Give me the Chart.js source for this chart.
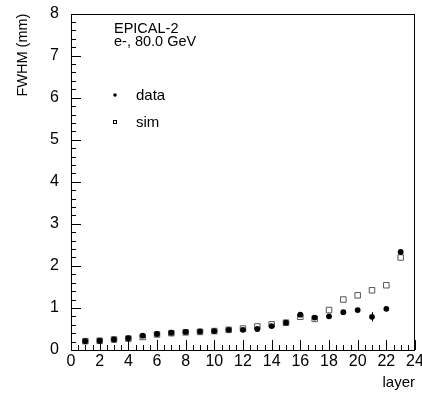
<!DOCTYPE html>
<html>
<head>
<meta charset="utf-8">
<script src="https://cdn.jsdelivr.net/npm/chart.js@4.4.1/dist/chart.umd.min.js"></script>
<style>
  html, body { margin: 0; padding: 0; background: #fff; }
  #wrap { width: 422px; height: 393px; }
</style>
</head>
<body>
<div id="wrap"><canvas id="fwhmChart"></canvas></div>
<script>
/* dados */
const layers   = [1, 2, 3, 4, 5, 6, 7, 8, 9, 10, 11, 12, 13, 14, 15, 16, 17, 18, 19, 20, 21, 22, 23];
const dataFwhm = [0.21, 0.22, 0.25, 0.28, 0.34, 0.38, 0.41, 0.43, 0.44, 0.45, 0.48, 0.48, 0.50, 0.57, 0.65, 0.84, 0.77, 0.80, 0.90, 0.95, 0.79, 0.98, 2.33];
const dataErr  = [0.01, 0.01, 0.01, 0.01, 0.01, 0.01, 0.01, 0.01, 0.01, 0.01, 0.01, 0.01, 0.01, 0.01, 0.01, 0.01, 0.01, 0.02, 0.02, 0.02, 0.11, 0.02, 0.04];
const simFwhm  = [0.21, 0.22, 0.25, 0.27, 0.31, 0.37, 0.40, 0.42, 0.43, 0.45, 0.48, 0.51, 0.56, 0.61, 0.65, 0.79, 0.74, 0.95, 1.20, 1.30, 1.42, 1.54, 2.20];
const xTicks   = [0, 2, 4, 6, 8, 10, 12, 14, 16, 18, 20, 22, 24];
const yTicks   = [0, 1, 2, 3, 4, 5, 6, 7, 8];
const infoText = ['EPICAL-2', 'e-, 80.0 GeV'];

const FONT = '"Liberation Sans", Arial, Helvetica, sans-serif';

/* barras de erro por baixo dos pontos */
const errorBars = {
  id: 'errorBars',
  beforeDatasetsDraw(chart) {
    const { ctx, scales: { x, y } } = chart;
    ctx.save();
    ctx.strokeStyle = '#000';
    ctx.lineWidth = 1;
    ctx.beginPath();
    layers.forEach((l, i) => {
      const px = Math.round(x.getPixelForValue(l)) + 0.5;
      ctx.moveTo(px, y.getPixelForValue(dataFwhm[i] - dataErr[i]));
      ctx.lineTo(px, y.getPixelForValue(dataFwhm[i] + dataErr[i]));
    });
    ctx.stroke();
    ctx.restore();
  }
};

/* moldura + marcas de escala estilo ROOT, texto e legenda */
const rootFrame = {
  id: 'rootFrame',
  afterDraw(chart) {
    const { ctx, chartArea: a } = chart;
    const x = chart.scales.x, y = chart.scales.y;
    ctx.save();
    ctx.fillStyle = '#000';
    ctx.strokeStyle = '#000';
    ctx.lineWidth = 1;
    ctx.strokeRect(Math.round(a.left) + 0.5, Math.round(a.top) + 0.5,
                   Math.round(a.right - a.left) - 1, Math.round(a.bottom - a.top));

    const bottom = Math.round(a.bottom);
    const left = Math.round(a.left);
    const x0 = xTicks[0], x1 = xTicks[xTicks.length - 1];
    const y0 = yTicks[0], y1 = yTicks[yTicks.length - 1];
    // x: major a cada 2, minor a cada 0.5
    for (let i = 0; i <= (x1 - x0) * 2; i++) {
      const px = Math.round(x.getPixelForValue(x0 + i * 0.5));
      const len = i % 4 === 0 ? 10 : 5;
      ctx.fillRect(px, bottom - len, 1, len);
    }
    // y: major a cada 1, minor a cada 0.2
    for (let i = 0; i <= (y1 - y0) * 5; i++) {
      const py = Math.round(y.getPixelForValue(y0 + i * 0.2));
      const len = i % 5 === 0 ? 10 : 5;
      ctx.fillRect(left, py, len, 1);
    }

    ctx.font = '14.5px ' + FONT;
    ctx.textBaseline = 'alphabetic';
    ctx.fillText(infoText[0], 114, 33);
    ctx.fillText(infoText[1], 114, 46);

    // legenda
    ctx.textBaseline = 'middle';
    ctx.font = '15px ' + FONT;
    ctx.beginPath();
    ctx.arc(115, 95, 1.8, 0, Math.PI * 2);
    ctx.fill();
    ctx.fillText(chart.data.datasets[0].label, 136, 96);
    ctx.strokeRect(113.5, 120.5, 3, 3);
    ctx.fillText(chart.data.datasets[1].label, 136, 123);
    ctx.restore();
  }
};

new Chart(document.getElementById('fwhmChart'), {
  type: 'scatter',
  data: {
    datasets: [
      {
        label: 'data',
        data: layers.map((l, i) => ({ x: l, y: dataFwhm[i] })),
        pointStyle: 'circle',
        pointRadius: 2.9,
        backgroundColor: '#000',
        borderColor: '#000',
        borderWidth: 0,
        order: 0
      },
      {
        label: 'sim',
        data: layers.map((l, i) => ({ x: l, y: simFwhm[i] })),
        pointStyle: 'rect',
        pointRadius: 3.9,
        backgroundColor: '#fff',
        borderColor: '#555',
        borderWidth: 1,
        order: 1
      }
    ]
  },
  options: {
    responsive: true,
    maintainAspectRatio: false,
    animation: false,
    events: [],
    layout: { padding: { top: 13, right: 7, left: 0, bottom: 0 } },
    plugins: { legend: { display: false }, tooltip: { enabled: false } },
    scales: {
      x: {
        type: 'linear',
        min: 0, max: 24,
        afterBuildTicks: s => { s.ticks = xTicks.map(v => ({ value: v })); },
        afterFit: s => { s.height = 43; },
        grid: { display: false },
        border: { display: false },
        ticks: { color: '#000', font: { family: FONT, size: 16 }, padding: -6, maxRotation: 0, autoSkip: false },
        title: { display: true, text: 'layer', align: 'end', color: '#000',
                 font: { family: FONT, size: 15 }, padding: { top: 0, bottom: 1 } }
      },
      y: {
        type: 'linear',
        min: 0, max: 8,
        afterBuildTicks: s => { s.ticks = yTicks.map(v => ({ value: v })); },
        afterFit: s => { s.width = 71; },
        grid: { display: false },
        border: { display: false },
        ticks: { color: '#000', font: { family: FONT, size: 16 }, padding: 4 },
        title: { display: true, text: 'FWHM (mm)', align: 'end', color: '#000',
                 font: { family: FONT, size: 14.5 }, padding: { top: 14, bottom: 0 } }
      }
    }
  },
  plugins: [errorBars, rootFrame]
});
</script>
</body>
</html>
